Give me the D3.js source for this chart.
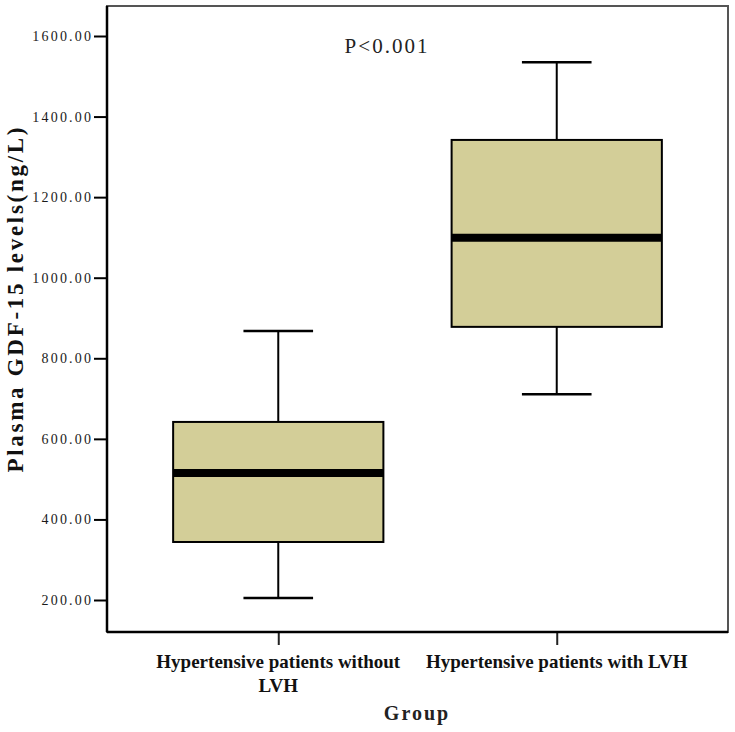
<!DOCTYPE html>
<html>
<head>
<meta charset="utf-8">
<script src="https://cdn.jsdelivr.net/npm/d3@7"></script>
<style>
  body { margin: 0; background: #fff; }
  svg { display: block; }
</style>
</head>
<body>
<div id="chart"></div>
<script>
// values (ng/L)
var groups = ['Hypertensive patients without LVH', 'Hypertensive patients with LVH'];
var groupLines = [['Hypertensive patients without', 'LVH'], ['Hypertensive patients with LVH']];
var whiskerLow = [205, 711];
var q1 = [344, 878];
var median = [515, 1099];
var q3 = [642, 1342];
var whiskerHigh = [868, 1535];
var yTicks = [200, 400, 600, 800, 1000, 1200, 1400, 1600];
var pLabel = 'P<0.001';

var width = 735, height = 732;
var frame = { left: 107, right: 728, top: 6, bottom: 632 };
var boxFill = '#d3ce98';

var svg = d3.select('#chart').append('svg')
    .attr('width', width)
    .attr('height', height);

var y = d3.scaleLinear()
    .domain([200, 1600])
    .range([600, 36]);

var x = d3.scalePoint()
    .domain(groups)
    .range([frame.left, frame.right])
    .padding(0.615);

var step = x.step();
var boxW = step * 0.755;
var capW = step * 0.25;

// plot frame
svg.append('rect')
    .attr('x', frame.left)
    .attr('y', frame.top)
    .attr('width', frame.right - frame.left)
    .attr('height', frame.bottom - frame.top)
    .attr('fill', 'none')
    .attr('stroke', '#555')
    .attr('stroke-width', 2);

// boxes
var box = svg.append('g').selectAll('g')
    .data(groups)
    .enter().append('g');

box.append('line')
    .attr('x1', function (d) { return x(d); })
    .attr('x2', function (d) { return x(d); })
    .attr('y1', function (d, i) { return y(whiskerHigh[i]); })
    .attr('y2', function (d, i) { return y(q3[i]); })
    .attr('stroke', '#000').attr('stroke-width', 2);

box.append('line')
    .attr('x1', function (d) { return x(d); })
    .attr('x2', function (d) { return x(d); })
    .attr('y1', function (d, i) { return y(q1[i]); })
    .attr('y2', function (d, i) { return y(whiskerLow[i]); })
    .attr('stroke', '#000').attr('stroke-width', 2);

box.append('line')
    .attr('x1', function (d) { return x(d) - capW / 2; })
    .attr('x2', function (d) { return x(d) + capW / 2; })
    .attr('y1', function (d, i) { return y(whiskerHigh[i]); })
    .attr('y2', function (d, i) { return y(whiskerHigh[i]); })
    .attr('stroke', '#000').attr('stroke-width', 2.5);

box.append('line')
    .attr('x1', function (d) { return x(d) - capW / 2; })
    .attr('x2', function (d) { return x(d) + capW / 2; })
    .attr('y1', function (d, i) { return y(whiskerLow[i]); })
    .attr('y2', function (d, i) { return y(whiskerLow[i]); })
    .attr('stroke', '#000').attr('stroke-width', 2.5);

box.append('rect')
    .attr('x', function (d) { return x(d) - boxW / 2; })
    .attr('y', function (d, i) { return y(q3[i]); })
    .attr('width', boxW)
    .attr('height', function (d, i) { return y(q1[i]) - y(q3[i]); })
    .attr('fill', boxFill)
    .attr('stroke', '#000')
    .attr('stroke-width', 2);

box.append('line')
    .attr('x1', function (d) { return x(d) - boxW / 2; })
    .attr('x2', function (d) { return x(d) + boxW / 2; })
    .attr('y1', function (d, i) { return y(median[i]); })
    .attr('y2', function (d, i) { return y(median[i]); })
    .attr('stroke', '#000').attr('stroke-width', 8);

// y axis
var yAxis = svg.append('g')
    .attr('transform', 'translate(' + frame.left + ',0)')
    .call(d3.axisLeft(y).tickValues(yTicks).tickSize(13).tickPadding(3)
        .tickFormat(function (d) { return d.toFixed(2); }));
yAxis.select('.domain').remove();
yAxis.selectAll('.tick line').attr('stroke', '#000').attr('stroke-width', 2);
yAxis.selectAll('.tick text')
    .attr('fill', '#1a1a1a')
    .attr('font-family', 'Liberation Serif, serif')
    .attr('font-size', 14)
    .attr('letter-spacing', '2.2px')
    .attr('dx', '2.2px');

svg.append('line')
    .attr('x1', frame.left).attr('x2', frame.left)
    .attr('y1', frame.top).attr('y2', frame.bottom)
    .attr('stroke', '#000').attr('stroke-width', 2.5);

// x axis
var xAxis = svg.append('g')
    .attr('transform', 'translate(0,' + frame.bottom + ')')
    .call(d3.axisBottom(x).tickSize(13).tickFormat(''));
xAxis.select('.domain').remove();
xAxis.selectAll('.tick line').attr('stroke', '#222').attr('stroke-width', 2);

svg.append('line')
    .attr('x1', frame.left).attr('x2', frame.right)
    .attr('y1', frame.bottom).attr('y2', frame.bottom)
    .attr('stroke', '#000').attr('stroke-width', 2.5);

var xLab = svg.append('g').selectAll('text')
    .data(groups)
    .enter().append('text')
    .attr('x', function (d) { return x(d); })
    .attr('y', 668)
    .attr('text-anchor', 'middle')
    .attr('font-family', 'Liberation Serif, serif')
    .attr('font-weight', 'bold')
    .attr('font-size', 19)
    .attr('fill', '#111');

xLab.selectAll('tspan')
    .data(function (d, i) { return groupLines[i]; })
    .enter().append('tspan')
    .attr('x', function () { return x(d3.select(this.parentNode).datum()); })
    .attr('dy', function (d, j) { return j ? 24 : 0; })
    .text(function (d) { return d; });

// titles
svg.append('text')
    .attr('x', 417)
    .attr('y', 720)
    .attr('text-anchor', 'middle')
    .attr('font-family', 'Liberation Serif, serif')
    .attr('font-weight', 'bold')
    .attr('font-size', 20)
    .attr('letter-spacing', '2px')
    .attr('fill', '#222')
    .text('Group');

svg.append('text')
    .attr('transform', 'translate(23,300) rotate(-90)')
    .attr('text-anchor', 'middle')
    .attr('font-family', 'Liberation Serif, serif')
    .attr('font-weight', 'bold')
    .attr('font-size', 23)
    .attr('textLength', 345)
    .attr('lengthAdjust', 'spacing')
    .attr('fill', '#111')
    .text('Plasma GDF-15 levels(ng/L)');

svg.append('text')
    .attr('x', 387)
    .attr('y', 53)
    .attr('text-anchor', 'middle')
    .attr('font-family', 'Liberation Serif, serif')
    .attr('font-size', 21)
    .attr('letter-spacing', '2px')
    .attr('fill', '#222')
    .text(pLabel);
</script>
</body>
</html>
